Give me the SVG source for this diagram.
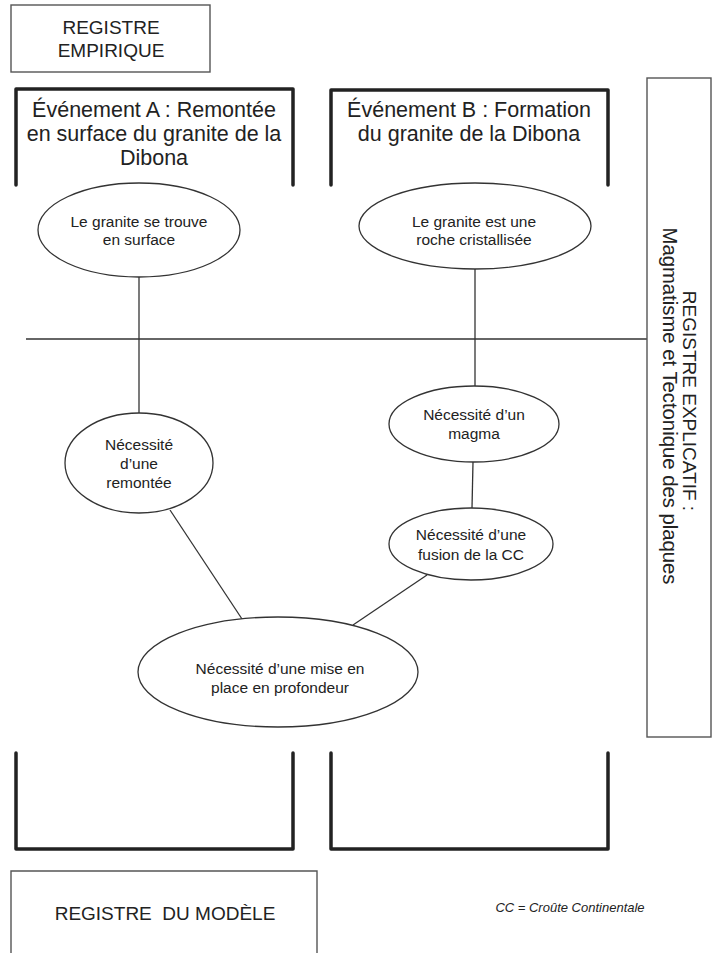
<svg xmlns="http://www.w3.org/2000/svg" width="712" height="953" viewBox="0 0 712 953">
<style>
text{font-family:"Liberation Sans",Arial,sans-serif;fill:#222}
.reg{font-size:19px;text-anchor:middle}
.ttl{font-size:21.5px;text-anchor:middle}
.el{font-size:15.5px;text-anchor:middle}
.box{fill:none;stroke:#555;stroke-width:1.4}
.brk{fill:none;stroke:#222;stroke-width:3.5;stroke-linecap:round;stroke-linejoin:round}
.ell{fill:#fff;stroke:#333;stroke-width:1.3}
.ln{stroke:#333;stroke-width:1.3;fill:none}
.cc{font-size:13px;font-style:italic;text-anchor:middle}
</style>
<rect width="712" height="953" fill="#fff"/>
<g id="connectors">
<line class="ln" x1="26" y1="339" x2="647" y2="339"/>
<line class="ln" x1="139" y1="277" x2="139" y2="413"/>
<line class="ln" x1="475" y1="269" x2="475" y2="386"/>
<line class="ln" x1="473" y1="462" x2="472" y2="508"/>
<line class="ln" x1="170" y1="510" x2="242" y2="619"/>
<line class="ln" x1="427" y1="575" x2="353" y2="625"/>
</g>
<g id="registre-empirique">
<rect class="box" x="11" y="5" width="199" height="67"/>
<text class="reg" x="111" y="34">REGISTRE</text>
<text class="reg" x="111" y="57">EMPIRIQUE</text>
</g>
<g id="evenement-a">
<path class="brk" d="M16,185 V89 H293 V185"/>
<text class="ttl" x="154" y="117">Événement A : Remontée</text>
<text class="ttl" x="154" y="141">en surface du granite de la</text>
<text class="ttl" x="154" y="165">Dibona</text>
</g>
<g id="evenement-b">
<path class="brk" d="M331,185 V90 H608 V185"/>
<text class="ttl" x="469" y="117">Événement B : Formation</text>
<text class="ttl" x="469" y="141">du granite de la Dibona</text>
</g>
<g id="registre-explicatif">
<rect class="box" x="647" y="78" width="64" height="659"/>
<text class="reg" transform="translate(683,401) rotate(90)">REGISTRE EXPLICATIF :</text>
<text class="reg" style="font-size:20.3px" transform="translate(663,406) rotate(90)">Magmatisme et Tectonique des plaques</text>
</g>
<g id="surface">
<ellipse class="ell" cx="139" cy="230" rx="101" ry="47"/>
<text class="el" x="139" y="227">Le granite se trouve</text>
<text class="el" x="139" y="245">en surface</text>
</g>
<g id="cristallisee">
<ellipse class="ell" cx="475" cy="226" rx="116" ry="43"/>
<text class="el" x="474" y="227">Le granite est une</text>
<text class="el" x="474" y="245">roche cristallisée</text>
</g>
<g id="remontee">
<ellipse class="ell" cx="139" cy="463" rx="74" ry="50"/>
<text class="el" x="139" y="450">Nécessité</text>
<text class="el" x="139" y="469">d’une</text>
<text class="el" x="139" y="488">remontée</text>
</g>
<g id="magma">
<ellipse class="ell" cx="474" cy="424" rx="85" ry="38"/>
<text class="el" x="474" y="420">Nécessité d’un</text>
<text class="el" x="474" y="439">magma</text>
</g>
<g id="fusion">
<ellipse class="ell" cx="471" cy="544" rx="82" ry="36"/>
<text class="el" x="471" y="540">Nécessité d’une</text>
<text class="el" x="471" y="560">fusion de la CC</text>
</g>
<g id="profondeur">
<ellipse class="ell" cx="278" cy="672" rx="140" ry="55"/>
<text class="el" x="280" y="674">Nécessité d’une mise en</text>
<text class="el" x="280" y="693">place en profondeur</text>
</g>
<g id="bas-a">
<path class="brk" d="M16,753 V849 H293 V753"/>
</g>
<g id="bas-b">
<path class="brk" d="M331,753 V849 H608 V753"/>
</g>
<g id="registre-modele">
<path class="box" d="M11,953 V871 H317 V953"/>
<text class="reg" x="165" y="920" xml:space="preserve">REGISTRE  DU MODÈLE</text>
</g>
<g id="legende">
<text class="cc" x="570" y="912">CC = Croûte Continentale</text>
</g>
</svg>
